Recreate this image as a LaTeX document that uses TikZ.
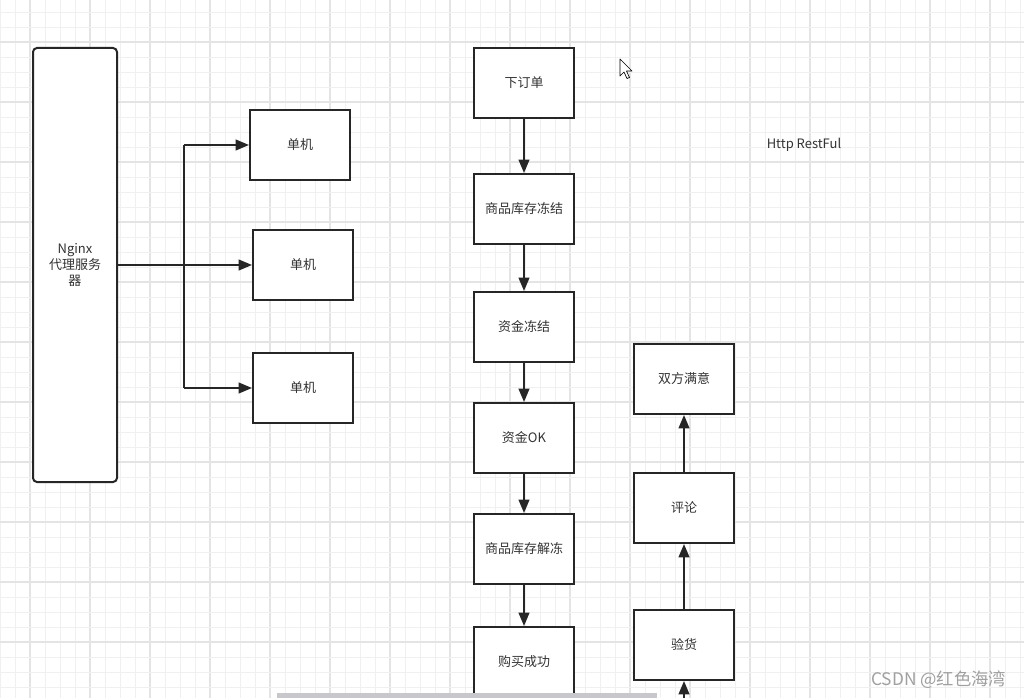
\documentclass[tikz,border=0pt]{standalone}
\usepackage{fontspec}
\setmainfont{Noto Sans CJK SC}
\usetikzlibrary{arrows.meta}
\definecolor{gridminor}{HTML}{F0F0F0}
\definecolor{gridmajor}{HTML}{E4E4E4}
\definecolor{ink}{HTML}{262626}
\definecolor{txt}{HTML}{333333}
\definecolor{wm}{HTML}{A0A0A0}
\definecolor{sbar}{HTML}{C8C8CC}
\tikzset{
  box/.style={draw=ink, line width=1.5pt, fill=white, minimum width=75pt, minimum height=52.5pt, inner sep=0pt, text=txt, font=\fontsize{9.75pt}{12pt}\selectfont},
  conn/.style={draw=ink, line width=1.5pt, -{Triangle[length=10pt,width=8pt]}},
  plain/.style={draw=ink, line width=1.5pt},
}
\begin{document}
\begin{tikzpicture}[x=0.75pt,y=-0.75pt]
\useasboundingbox (0,0) rectangle (1024,698);
\fill[white] (0,0) rectangle (1024,698);
% grid
\foreach \i in {0,...,68}{
  \pgfmathsetmacro{\xx}{15*\i}
  \pgfmathtruncatemacro{\mj}{mod(\i,4)==2}
  \ifnum\mj=1 \draw[gridmajor, line width=0.8pt] (\xx,0) -- (\xx,698);
  \else \draw[gridminor, line width=0.55pt] (\xx,0) -- (\xx,698); \fi
}
\foreach \i in {0,...,46}{
  \pgfmathsetmacro{\yy}{12+15*\i}
  \pgfmathtruncatemacro{\mj}{mod(\i,4)==2}
  \ifnum\mj=1 \draw[gridmajor, line width=0.8pt] (0,\yy) -- (1024,\yy);
  \else \draw[gridminor, line width=0.55pt] (0,\yy) -- (1024,\yy); \fi
}
% left part
\node[box, rounded corners=3pt, minimum width=63pt, minimum height=325.5pt, align=center] (nginx) at (75,265) {Nginx\\代理服务\\器};
\node[box] (s1) at (300,145) {单机};
\node[box] (s2) at (303,265) {单机};
\node[box] (s3) at (303,388) {单机};
\coordinate (j1) at (184,145);
\coordinate (j3) at (184,388);
\draw[conn] (nginx.east |- s2) -- (s2.west);
\draw[plain] (j1) -- (j3);
\draw[conn] (j1) -- (s1.west);
\draw[conn] (j3) -- (s3.west);
% order flow
\node[box] (o1) at (524,83) {下订单};
\node[box] (o2) at (524,209) {商品库存冻结};
\node[box] (o3) at (524,327) {资金冻结};
\node[box] (o4) at (524,438) {资金OK};
\node[box] (o5) at (524,549) {商品库存解冻};
\node[box] (o6) at (524,662) {购买成功};
\draw[conn] (o1) -- (o2);
\draw[conn] (o2) -- (o3);
\draw[conn] (o3) -- (o4);
\draw[conn] (o4) -- (o5);
\draw[conn] (o5) -- (o6);
% right flow
\node[box] (r1) at (684,379) {双方满意};
\node[box] (r2) at (684,508) {评论};
\node[box] (r3) at (684,645) {验货};
\coordinate (rin) at (684,712);
\draw[conn] (rin) -- (r3);
\draw[conn] (r3) -- (r2);
\draw[conn] (r2) -- (r1);
% label
\node[text=txt, font=\fontsize{9.75pt}{12pt}\selectfont] (http) at (804,145) {Http RestFul};
% cursor
\draw[black, line width=0.5pt, fill=white, line join=round] (620,59) -- (620,76) -- (624,72) -- (627,78.5) -- (629.5,77.5) -- (626.5,71) -- (632,71) -- cycle;
% scrollbar
\fill[sbar] (277,693) rectangle (657,699);
% watermark
\node[text=wm, font=\fontsize{13pt}{15pt}\selectfont, anchor=east] (wmk) at (1011,680) {CSDN @红色海湾};
\end{tikzpicture}
\end{document}
